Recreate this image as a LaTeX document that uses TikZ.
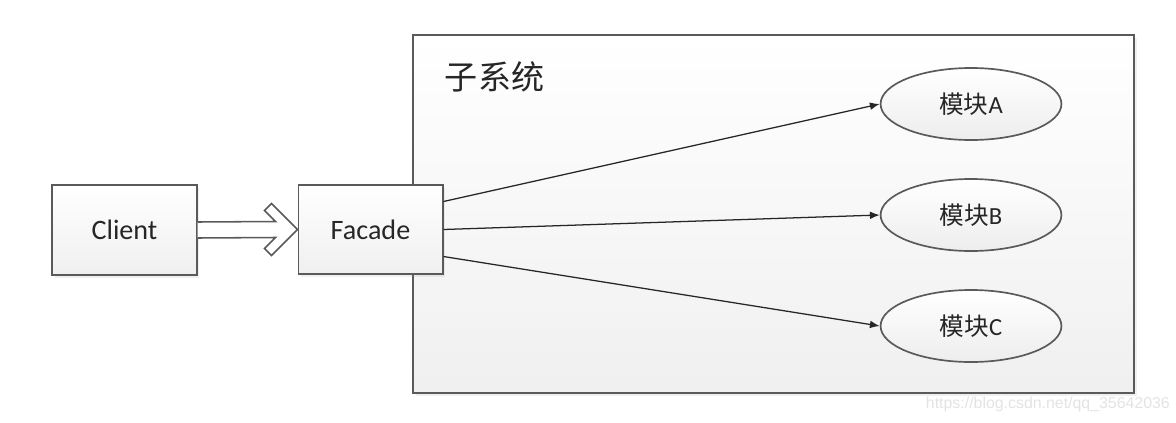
\documentclass[tikz,border=0pt]{standalone}
\usepackage{fontspec}
\setmainfont{Carlito}
\newfontfamily\cjk{Noto Sans CJK SC}
\newfontfamily\wmfont{Liberation Sans}
\usetikzlibrary{calc,shapes.geometric,shadows,arrows.meta}
\definecolor{edge}{HTML}{5A5A5A}
\definecolor{ink}{HTML}{262626}
\tikzset{
	frame/.style = {draw=edge, line width=1.4pt, top color=white, bottom color=gray!12},
	box/.style = {frame, minimum width=3.6cm, minimum height=2.24cm,
		drop shadow={opacity=0.12, shadow xshift=2pt, shadow yshift=-2pt},
		text=ink, font=\fontsize{20}{23}\selectfont},
	modul/.style = {draw=edge, line width=1.2pt, top color=white, bottom color=gray!14,
		ellipse, minimum width=4.52cm, minimum height=1.8cm, inner sep=0pt,
		text=ink, font=\fontsize{17.5}{20}\selectfont},
	call/.style = {draw=ink, line width=0.9pt, -{Latex[length=7pt,width=5.5pt]}},
}
\newcommand{\modname}[1]{{\cjk 模块}#1}

\begin{document}
\begin{tikzpicture}[x=0.025cm, y=-0.025cm]
\useasboundingbox (0,0) rectangle (1176,422);
%The subsystem
	\node[frame, minimum width=18.02cm, minimum height=8.95cm,
		drop shadow={opacity=0.12, shadow xshift=2pt, shadow yshift=-2pt}] (sub) at (773.5,214) {};
	\node[anchor=west, text=ink, font=\cjk\fontsize{23.5}{26}\selectfont] (title) at (440,77) {子系统};
%Client and facade
	\node[box] (client) at (124.5,230) {Client};
	\node[box] (facade) at (370.5,229.5) {Facade};
%The modules
	\node[modul] (moda) at (971,104) {\modname{A}};
	\node[modul] (modb) at (971,215) {\modname{B}};
	\node[modul] (modc) at (971,326) {\modname{C}};
%Hollow arrow
	\draw[draw=edge, line width=1.1pt, fill=white, line join=miter]
		($(client.east)+(0,-8)$) -- ($(facade.west)+(-22,-8)$) -- ($(facade.west)+(-33,-19)$)
		-- ($(facade.west)+(-26,-26)$) -- (facade.west) -- ($(facade.west)+(-26,26)$)
		-- ($(facade.west)+(-33,19)$) -- ($(facade.west)+(-22,8)$) -- ($(client.east)+(0,8)$);
%Calls
	\coordinate (outa) at ($(facade.east)+(0,-28)$);
	\coordinate (outc) at ($(facade.east)+(0,27)$);
	\draw[call] (outa) -- (moda.west);
	\draw[call] (facade.east) -- (modb.west);
	\draw[call] (outc) -- (modc.west);
%Watermark
	\node[anchor=west, text=gray!22, font=\wmfont\fontsize{11.3}{13}\selectfont] (mark) at (921,404) {https://blog.csdn.net/qq\_35642036};
\end{tikzpicture}
\end{document}
